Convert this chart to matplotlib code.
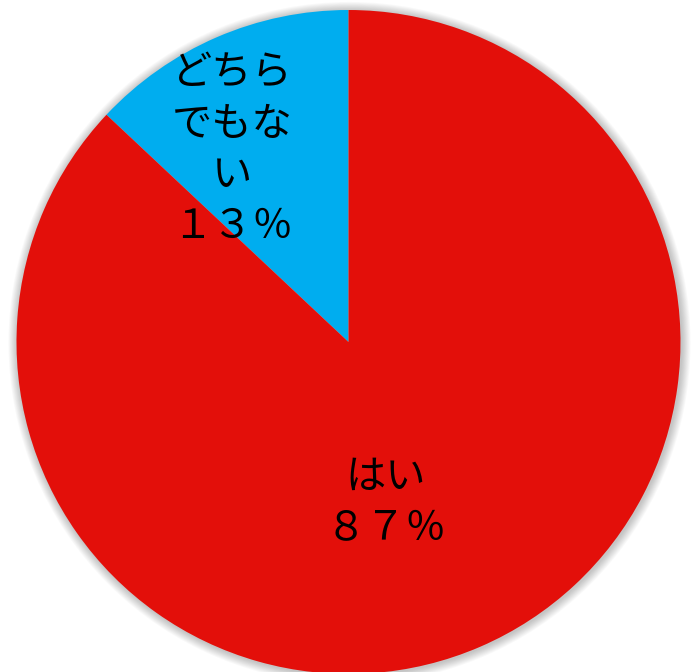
import matplotlib.pyplot as plt
from matplotlib.patches import Circle

plt.rcParams['font.family'] = ['Noto Sans CJK JP', 'DejaVu Sans']

labels = ['どちら\nでもな\nい', 'はい']
values = [13, 87]
pct_text = ['１３％', '８７％']
colors = ['#00ADEF', '#E30F0A']

fig = plt.figure(figsize=(6.92, 6.72), dpi=100)
ax = fig.add_axes([0, 0, 1, 1])

cx, cy, r = 348.5, 330, 332

# soft shadow around the pie
for i in range(10):
    ax.add_patch(Circle((cx + 1, cy - 1), r + 1 + i * 0.9, color='#000000',
                        alpha=0.025, lw=0, zorder=0))

ax.pie(values, colors=colors, startangle=90, counterclock=True,
       center=(cx, cy), radius=r, frame=True,
       wedgeprops=dict(linewidth=0))
ax.set_xlim(0, 692)
ax.set_ylim(0, 672)
ax.axis('off')

ax.text(232, 672 - 150, labels[0] + '\n' + pct_text[0], ha='center', va='center',
        fontsize=29, linespacing=1.32, color='black')
ax.text(386, 672 - 503, labels[1] + '\n' + pct_text[1], ha='center', va='center',
        fontsize=29, linespacing=1.32, color='black')

fig.savefig('out.png', dpi=100)
